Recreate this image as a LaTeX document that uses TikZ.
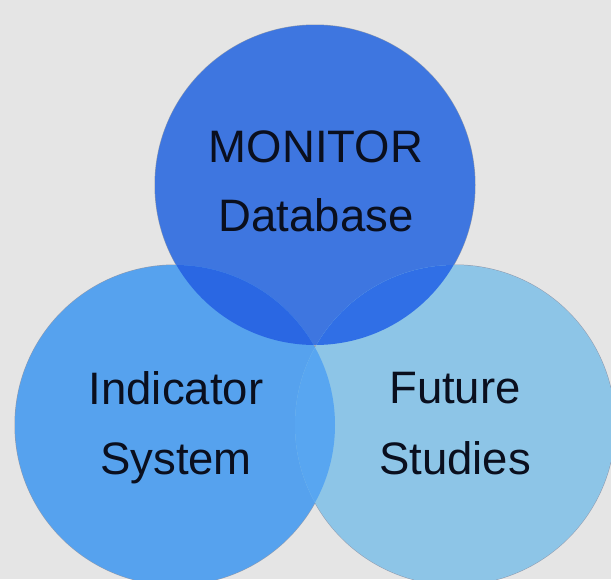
\documentclass[tikz,border=0pt]{standalone}
\usepackage{fontspec}
\setmainfont{Liberation Sans}
\definecolor{bgc}{HTML}{E5E5E5}
\definecolor{topc}{HTML}{3E76E0}
\definecolor{leftc}{HTML}{56A2EE}
\definecolor{rightc}{HTML}{8DC5E7}
\definecolor{tlc}{HTML}{2A67E3}
\definecolor{trc}{HTML}{306FE6}
\definecolor{lrc}{HTML}{58A6F1}
\definecolor{edgec}{HTML}{8E9AAE}
\definecolor{txtc}{HTML}{0A0F1E}
\begin{document}
\begin{tikzpicture}[x=1pt,y=-1pt,
  ring/.style={circle,minimum size=320pt,inner sep=0pt,outer sep=0pt},
  lbl/.style={anchor=base,text=txtc,inner sep=0pt,font=\fontsize{45.5}{52}\selectfont}]
\useasboundingbox (0,0) rectangle (611,579);
\fill[bgc] (0,0) rectangle (611,579);
\clip (0,0) rectangle (611,579);
% outlines
\foreach \p in {(315,185),(175,425),(455,425)}
  \draw[edgec,line width=1pt] \p circle (160);
% circles
\node[ring,fill=topc] (top) at (315,185) {};
\node[ring,fill=leftc] (left) at (175,425) {};
\node[ring,fill=rightc] (right) at (455,425) {};
% overlaps
\begin{scope}
  \clip (175,425) circle (160);
  \fill[lrc] (455,425) circle (160);
\end{scope}
\begin{scope}
  \clip (315,185) circle (160);
  \fill[tlc] (175,425) circle (160);
\end{scope}
\begin{scope}
  \clip (315,185) circle (160);
  \fill[trc] (455,425) circle (160);
\end{scope}
% labels
\node[lbl] (t1) at (316,162) {MONITOR};
\node[lbl] (t2) at (316,231) {Database};
\node[lbl] (l1) at (176,404) {Indicator};
\node[lbl] (l2) at (176,474) {System};
\node[lbl] (r1) at (455,403) {Future};
\node[lbl] (r2) at (455,474) {Studies};
\end{tikzpicture}
\end{document}
